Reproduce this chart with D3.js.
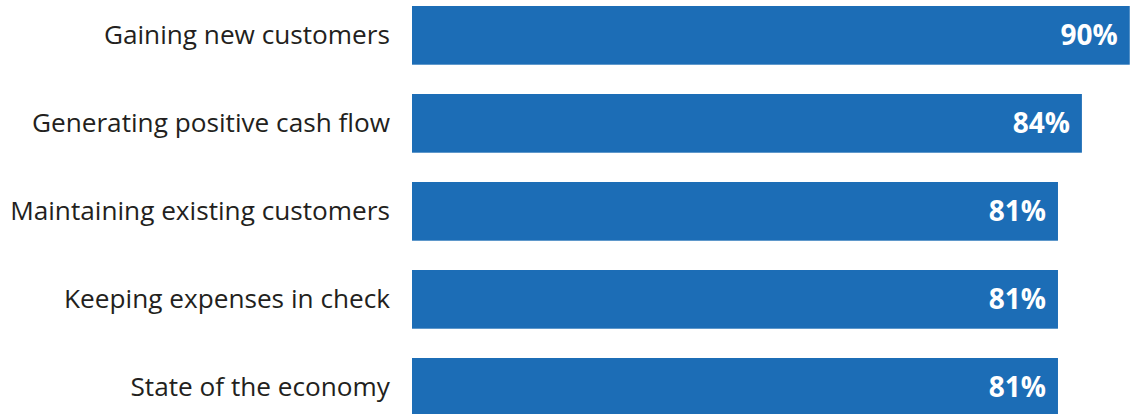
<!DOCTYPE html>
<html>
<head>
<meta charset="utf-8">
<script src="https://cdn.jsdelivr.net/npm/d3@7"></script>
<style>
  body { margin: 0; background: #fff; }
</style>
</head>
<body>
<script>
var categories = ["Gaining new customers", "Generating positive cash flow", "Maintaining existing customers", "Keeping expenses in check", "State of the economy"];
var values = [90, 84, 81, 81, 81];
var valueLabels = ["90%", "84%", "81%", "81%", "81%"];

var width = 1130, height = 414;
var barColor = "#1c6db6";

var svg = d3.select("body")
    .append("svg")
    .attr("width", width)
    .attr("height", height);

var x = d3.scaleLinear()
    .domain([0, 100])
    .range([412, 1209.5]);

var y = d3.scaleBand()
    .domain(categories)
    .range([6, 416.7])
    .paddingInner(0.333)
    .paddingOuter(0);

var rows = categories.map(function(c, i) {
    return {name: c, value: values[i], label: valueLabels[i]};
});

var row = svg.selectAll(".row")
    .data(rows)
    .enter()
    .append("g")
    .attr("class", "row");

row.append("rect")
    .attr("x", x(0))
    .attr("y", function(d) { return y(d.name); })
    .attr("width", function(d) { return x(d.value) - x(0); })
    .attr("height", y.bandwidth())
    .attr("fill", barColor);

// category names on the left
row.append("text")
    .attr("x", 390)
    .attr("y", function(d) { return y(d.name) + y.bandwidth() / 2; })
    .attr("dy", "0.33em")
    .attr("text-anchor", "end")
    .attr("font-family", "Open Sans")
    .attr("font-size", 26.2)
    .attr("fill", "#231f20")
    .text(function(d) { return d.name; });

// values inside the bars
row.append("text")
    .attr("x", function(d) { return x(d.value) - 12; })
    .attr("y", function(d) { return y(d.name) + y.bandwidth() / 2; })
    .attr("dy", "0.35em")
    .attr("text-anchor", "end")
    .attr("font-family", "Open Sans")
    .attr("font-weight", "bold")
    .attr("font-size", 28)
    .attr("fill", "#fff")
    .text(function(d) { return d.label; });
</script>
</body>
</html>
